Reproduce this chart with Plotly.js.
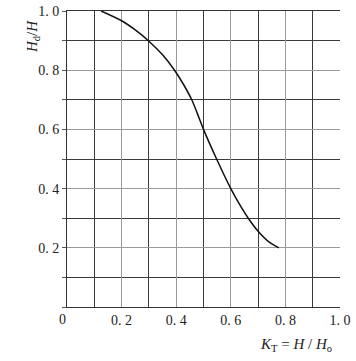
<!DOCTYPE html>
<html>
<head>
<meta charset="utf-8">
<script src="https://cdn.plot.ly/plotly-3.0.1.min.js"></script>
<style>html,body{margin:0;padding:0;background:#fff;}#chart{width:356px;height:361px;}</style>
</head>
<body>
<div id="chart"></div>
<script>
// Curve values
const kT = [0.125, 0.2, 0.25, 0.3, 0.35, 0.394, 0.428, 0.457, 0.479, 0.5, 0.548, 0.6, 0.63, 0.664, 0.7, 0.742, 0.776];
const hdH = [1.0, 0.967, 0.936, 0.898, 0.852, 0.8, 0.75, 0.7, 0.65, 0.6, 0.5, 0.4, 0.35, 0.3, 0.256, 0.218, 0.2];

const xTickVals = [0.2, 0.4, 0.6, 0.8, 1.0];
const xTickText = ['0. 2', '0. 4', '0. 6', '0. 8', '1. 0'];
const yTickVals = [0.2, 0.4, 0.6, 0.8, 1.0];
const yTickText = ['0. 2', '0. 4', '0. 6', '0. 8', '1. 0'];

const tickFont = {family: 'Liberation Serif, DejaVu Serif, serif', size: 14, color: '#222'};

const trace = {
  x: kT, y: hdH, mode: 'lines', type: 'scatter',
  line: {color: '#111', width: 1.5, shape: 'spline', smoothing: 0.8},
  hoverinfo: 'skip', showlegend: false
};

const layout = {
  width: 356, height: 361,
  margin: {l: 67, r: 16, t: 11, b: 54},
  paper_bgcolor: '#fff', plot_bgcolor: '#fff',
  xaxis: {
    range: [0, 1], tickmode: 'array', tickvals: xTickVals, ticktext: xTickText,
    tickfont: tickFont, ticks: '', showgrid: true, gridcolor: '#9a9a9a', gridwidth: 1,
    zeroline: false, showline: true, linecolor: '#333', linewidth: 1, mirror: true,
    minor: {dtick: 0.1, tick0: 0, showgrid: true, gridcolor: '#3a3a3a', gridwidth: 1, ticks: ''},
    fixedrange: true
  },
  yaxis: {
    range: [0, 1], tickmode: 'array', tickvals: yTickVals, ticktext: yTickText,
    tickfont: tickFont, ticks: 'outside', ticklen: 4, tickcolor: '#555',
    showgrid: true, gridcolor: '#9a9a9a', gridwidth: 1,
    zeroline: false, showline: true, linecolor: '#333', linewidth: 1,
    minor: {dtick: 0.1, tick0: 0, showgrid: true, gridcolor: '#3a3a3a', gridwidth: 1, ticks: 'outside', ticklen: 4, tickcolor: '#555'},
    fixedrange: true
  },
  annotations: [
    {text: '0', xref: 'paper', yref: 'paper', x: 0, y: 0, xshift: -5, yshift: -12,
     showarrow: false, font: tickFont, xanchor: 'center', yanchor: 'middle'},
    {text: '<i>H</i><sub>d</sub>/<i>H</i>', xref: 'paper', yref: 'paper', x: 0, y: 0.912,
     xshift: -34, showarrow: false, textangle: -90,
     font: {family: 'Liberation Serif, DejaVu Serif, serif', size: 15, color: '#222'},
     xanchor: 'center', yanchor: 'middle'},
    {text: '<i>K</i><sub>T</sub> = <i>H</i> / <i>H</i><sub>o</sub>', xref: 'paper', yref: 'paper',
     x: 0.839, y: -0.128, showarrow: false,
     font: {family: 'Liberation Serif, DejaVu Serif, serif', size: 15, color: '#222'},
     xanchor: 'center', yanchor: 'middle'}
  ]
};

Plotly.newPlot('chart', [trace], layout, {displayModeBar: false, staticPlot: true});
</script>
</body>
</html>
